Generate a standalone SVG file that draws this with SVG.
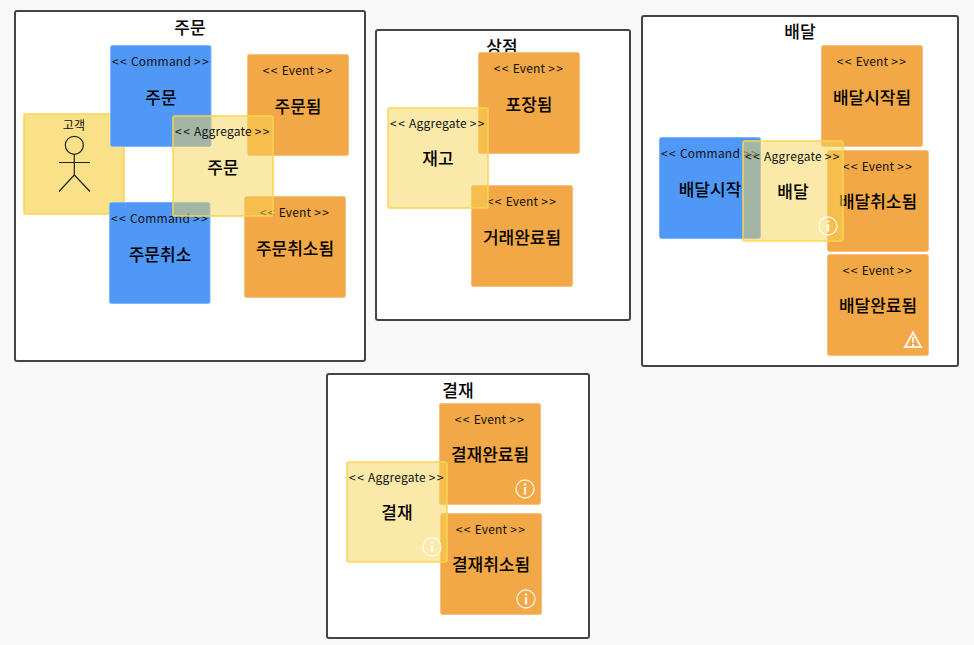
<svg xmlns="http://www.w3.org/2000/svg" width="974" height="645" viewBox="0 0 974 645">
<style>
text{font-family:"Noto Sans CJK KR","Noto Sans",sans-serif;text-anchor:middle;fill:#000}
.frame{fill:#fff;stroke:#444;stroke-width:2}
.title{font-size:17px;font-weight:500}
.st{font-size:12px;letter-spacing:.2px;fill:#111;font-weight:400}
.c{letter-spacing:1.4px}
.nm{font-size:17px;font-weight:500}
.cmd{fill:#4f98f8;stroke:#7fb4fa;stroke-width:1}
.evt{fill:#f2a846;stroke:#f6c080;stroke-width:1}
.agg{fill:#f8d454;fill-opacity:.5;stroke:#f8d454;stroke-opacity:.75;stroke-width:2}
.act{fill:#f8d454;fill-opacity:.7;stroke:#f8d454;stroke-opacity:.75;stroke-width:2}
.fig{fill:none;stroke:#222;stroke-width:1.2}
.ico{fill:none;stroke:#fff;stroke-width:1.3;stroke-opacity:.85}
.icf{fill:#fff;fill-opacity:.85}
</style>
<defs>
<g id="info"><circle class="ico" r="9"/><circle class="icf" cy="-4.5" r="1.3"/><rect class="icf" x="-1.2" y="-2" width="2.4" height="7.5"/></g>
<g id="warn"><path class="ico" style="stroke-width:2" d="M0-7.5L8 7H-8Z"/><rect class="icf" x="-1" y="-3" width="2" height="6"/><rect class="icf" x="-1" y="4" width="2" height="2"/></g>
</defs>
<rect width="974" height="645" fill="#f8f8f8"/>
<g id="connectors"/>

<g id="frame-order"><rect class="frame" x="15" y="11" width="350" height="350" rx="2"/><text class="title" x="190" y="34">주문</text></g>
<g id="frame-shop"><rect class="frame" x="376" y="30" width="254" height="290" rx="2"/><text class="title" x="502" y="53">상점</text></g>
<g id="frame-delivery"><rect class="frame" x="642" y="16" width="316" height="350" rx="2"/><text class="title" x="800" y="38">배달</text></g>
<g id="frame-payment"><rect class="frame" x="327" y="374" width="262" height="264" rx="2"/><text class="title" x="458" y="397">결재</text></g>

<g id="actor-customer"><rect class="act" x="24" y="114" width="100" height="100" rx="2"/><text class="st" x="74" y="130">고객</text>
<circle class="fig" cx="74.3" cy="145.3" r="9"/><path class="fig" d="M74.3 154.3V175M59 162.5H90M59 191.5L74.3 175L90 191.5"/></g>

<g id="cmd-order"><rect class="cmd" x="110.5" y="45.5" width="100.5" height="101" rx="2"/><text class="st" x="161" y="66"><tspan class="c">&lt;&lt;</tspan> Command <tspan class="c">&gt;&gt;</tspan></text><text class="nm" x="161" y="104">주문</text></g>
<g id="cmd-cancel"><rect class="cmd" x="109.5" y="202.5" width="100.5" height="101" rx="2"/><text class="st" x="160" y="223"><tspan class="c">&lt;&lt;</tspan> Command <tspan class="c">&gt;&gt;</tspan></text><text class="nm" x="160" y="261">주문취소</text></g>
<g id="evt-ordered"><rect class="evt" x="247.5" y="54.5" width="101" height="101" rx="2"/><text class="st" x="298" y="75"><tspan class="c">&lt;&lt;</tspan> Event <tspan class="c">&gt;&gt;</tspan></text><text class="nm" x="298" y="113">주문됨</text></g>
<g id="evt-order-cancelled"><rect class="evt" x="244.5" y="196.5" width="101" height="101" rx="2"/><text class="st" x="295" y="217"><tspan class="c">&lt;&lt;</tspan> Event <tspan class="c">&gt;&gt;</tspan></text><text class="nm" x="295" y="255">주문취소됨</text></g>
<g id="agg-order"><rect class="agg" x="173" y="116" width="100" height="100" rx="2"/><text class="st" x="223" y="136"><tspan class="c">&lt;&lt;</tspan> Aggregate <tspan class="c">&gt;&gt;</tspan></text><text class="nm" x="223" y="174">주문</text></g>

<g id="evt-packed"><rect class="evt" x="478.5" y="52.5" width="101" height="101" rx="2"/><text class="st" x="529" y="73"><tspan class="c">&lt;&lt;</tspan> Event <tspan class="c">&gt;&gt;</tspan></text><text class="nm" x="529" y="111">포장됨</text></g>
<g id="evt-deal-done"><rect class="evt" x="471.5" y="185.5" width="101" height="101" rx="2"/><text class="st" x="522" y="206"><tspan class="c">&lt;&lt;</tspan> Event <tspan class="c">&gt;&gt;</tspan></text><text class="nm" x="522" y="244">거래완료됨</text></g>
<g id="agg-stock"><rect class="agg" x="388" y="108" width="100" height="100" rx="2"/><text class="st" x="438" y="128"><tspan class="c">&lt;&lt;</tspan> Aggregate <tspan class="c">&gt;&gt;</tspan></text><text class="nm" x="438" y="165">재고</text></g>

<g id="cmd-delivery-start"><rect class="cmd" x="659.5" y="137.5" width="101" height="101" rx="2"/><text class="st" x="710" y="158"><tspan class="c">&lt;&lt;</tspan> Command <tspan class="c">&gt;&gt;</tspan></text><text class="nm" x="710" y="196">배달시작</text></g>
<g id="evt-delivery-started"><rect class="evt" x="821.5" y="45.5" width="101" height="101" rx="2"/><text class="st" x="872" y="66"><tspan class="c">&lt;&lt;</tspan> Event <tspan class="c">&gt;&gt;</tspan></text><text class="nm" x="872" y="104">배달시작됨</text></g>
<g id="evt-delivery-cancelled"><rect class="evt" x="827.5" y="150.5" width="101" height="101" rx="2"/><text class="st" x="878" y="171"><tspan class="c">&lt;&lt;</tspan> Event <tspan class="c">&gt;&gt;</tspan></text><text class="nm" x="878" y="208">배달취소됨</text></g>
<g id="evt-delivery-done"><rect class="evt" x="827.5" y="254.5" width="101" height="101" rx="2"/><text class="st" x="878" y="275"><tspan class="c">&lt;&lt;</tspan> Event <tspan class="c">&gt;&gt;</tspan></text><text class="nm" x="878" y="312">배달완료됨</text><use href="#warn" x="913" y="340"/></g>
<g id="agg-delivery"><rect class="agg" x="743" y="141" width="100" height="100" rx="2"/><text class="st" x="793" y="161"><tspan class="c">&lt;&lt;</tspan> Aggregate <tspan class="c">&gt;&gt;</tspan></text><text class="nm" x="793" y="198">배달</text><use href="#info" x="828" y="226"/></g>

<g id="evt-paid"><rect class="evt" x="439.5" y="403.5" width="101" height="101" rx="2"/><text class="st" x="490" y="424"><tspan class="c">&lt;&lt;</tspan> Event <tspan class="c">&gt;&gt;</tspan></text><text class="nm" x="490" y="461">결재완료됨</text><use href="#info" x="525" y="489"/></g>
<g id="evt-pay-cancelled"><rect class="evt" x="440.5" y="513.5" width="101" height="101" rx="2"/><text class="st" x="491" y="534"><tspan class="c">&lt;&lt;</tspan> Event <tspan class="c">&gt;&gt;</tspan></text><text class="nm" x="491" y="571">결재취소됨</text><use href="#info" x="526" y="599"/></g>
<g id="agg-payment"><rect class="agg" x="347" y="462" width="100" height="100" rx="2"/><text class="st" x="397" y="482"><tspan class="c">&lt;&lt;</tspan> Aggregate <tspan class="c">&gt;&gt;</tspan></text><text class="nm" x="397" y="519">결재</text><use href="#info" x="432" y="547"/></g>
</svg>
